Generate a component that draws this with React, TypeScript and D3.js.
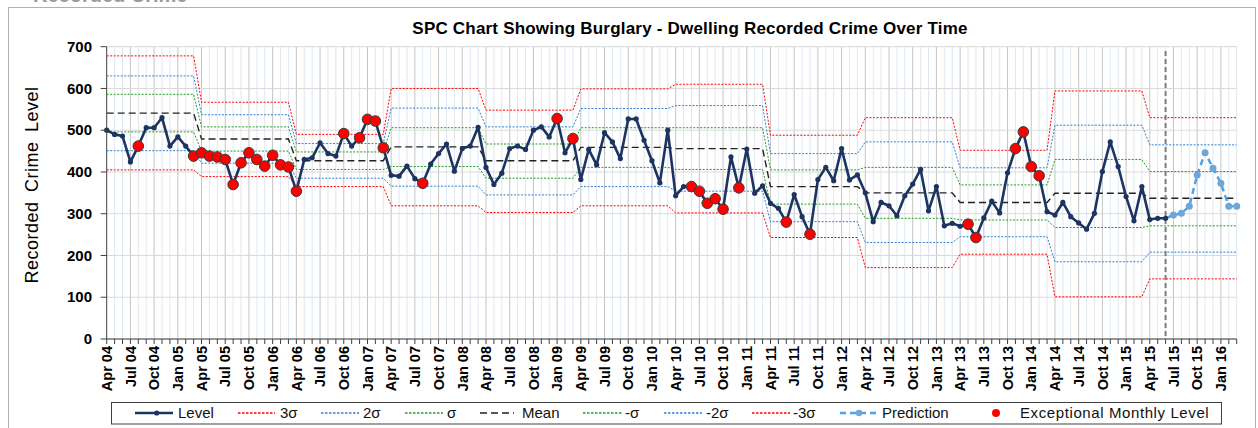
import React from "react";
import * as d3 from "d3";

// monthly recorded level, Apr 04 .. Jun 15
const levelValues = [
  500, 490, 486, 424, 462, 506, 506, 530, 462, 484, 462, 438,
  446, 438, 436, 430, 370, 422, 446, 430, 414, 440, 417, 412,
  354, 430, 434, 470, 444, 438, 492, 462, 482, 526, 522, 458,
  392, 390, 414, 384, 373, 419, 444, 467, 402, 456, 462, 507,
  411, 370, 397, 456, 462, 454, 500, 508, 484, 528, 446, 480,
  382, 454, 417, 494, 472, 432, 527, 527, 476, 427, 374, 500,
  343, 365, 365, 354, 325, 336, 311, 436, 362, 455, 349, 367,
  325, 313, 280, 346, 293, 251, 382, 411, 379, 456, 381, 393,
  350, 281, 327, 319, 295, 343, 371, 406, 307, 365, 271, 277,
  270, 275, 243, 290, 330, 302, 398, 456, 496, 413, 391, 305,
  297, 327, 293, 278, 263, 301, 401, 472, 413, 341, 283, 365,
  286, 289, 289,
];

// Jul 15 .. Mar 16
const predictionValues = [297, 301, 318, 393, 446, 409, 373, 318, 318];

// month indices flagged as exceptional
const exceptionalMonths = [
  4, 11, 12, 13, 14, 15, 16, 17, 18, 19, 20, 21, 22, 23, 24, 30, 32, 33, 34, 35,
  40, 57, 59, 74, 75, 76, 77, 78, 80, 86, 89, 109, 110, 115, 116, 117, 118,
];

// control limits per financial year (Apr - Mar)
const upper3 = [678, 567, 490, 600, 548, 599, 610, 488, 530, 452, 594, 530];
const upper2 = [630, 537, 468, 553, 508, 552, 559, 444, 472, 410, 512, 465];
const upper1 = [586, 508, 448, 506, 467, 506, 506, 405, 411, 369, 430, 401];
const meanVals = [541, 479, 427, 460, 427, 459, 456, 365, 350, 327, 349, 337];
const lower1 = [496, 450, 406, 413, 385, 411, 406, 323, 289, 285, 267, 271];
const lower2 = [451, 421, 385, 366, 345, 365, 354, 281, 231, 245, 185, 208];
const lower3 = [405, 389, 365, 319, 303, 319, 302, 243, 171, 203, 101, 144];

const quarterLabels = [
  "Apr 04", "Jul 04", "Oct 04", "Jan 05", "Apr 05", "Jul 05", "Oct 05", "Jan 06",
  "Apr 06", "Jul 06", "Oct 06", "Jan 07", "Apr 07", "Jul 07", "Oct 07", "Jan 08",
  "Apr 08", "Jul 08", "Oct 08", "Jan 09", "Apr 09", "Jul 09", "Oct 09", "Jan 10",
  "Apr 10", "Jul 10", "Oct 10", "Jan 11", "Apr 11", "Jul 11", "Oct 11", "Jan 12",
  "Apr 12", "Jul 12", "Oct 12", "Jan 13", "Apr 13", "Jul 13", "Oct 13", "Jan 14",
  "Apr 14", "Jul 14", "Oct 14", "Jan 15", "Apr 15", "Jul 15", "Oct 15", "Jan 16",
];

const W = 1258;
const H = 428;
const FONT = "Liberation Sans, Arial, sans-serif";

const RED = "#ff0000";
const BLUE = "#2f7fd0";
const GREEN = "#1e9e1e";

const App = () => {
  const nMonths = levelValues.length + predictionValues.length;
  const x = d3.scaleLinear().domain([0, nMonths - 1]).range([106.7, 1236.7]);
  const y = d3.scaleLinear().domain([0, 700]).range([339, 46.7]);
  const months = d3.range(nMonths);

  const line = d3
    .line<[number, number]>()
    .x((d) => x(d[0]))
    .y((d) => y(d[1]));

  const stepPath = (arr: number[]) =>
    line(months.map((i) => [i, arr[Math.floor(i / 12)]] as [number, number]));

  const limits = [
    { arr: upper3, color: RED },
    { arr: upper2, color: BLUE },
    { arr: upper1, color: GREEN },
    { arr: lower1, color: GREEN },
    { arr: lower2, color: BLUE },
    { arr: lower3, color: RED },
  ];

  const levelPts = levelValues.map((v, i) => [i, v] as [number, number]);
  const lastIdx = levelValues.length - 1;
  const predPts = [[lastIdx, levelValues[lastIdx]] as [number, number]].concat(
    predictionValues.map((v, k) => [lastIdx + 1 + k, v] as [number, number])
  );

  const legendY = 413;
  const navy = "#1b3461";
  const predBlue = "#4ea3ea";

  // legend entries for the thin dotted limit lines
  const legendLimits = [
    { x1: 238, x2: 275, tx: 280, color: RED, label: "3σ" },
    { x1: 321, x2: 359, tx: 363, color: BLUE, label: "2σ" },
    { x1: 405, x2: 443, tx: 447, color: GREEN, label: "σ" },
    { x1: 583, x2: 622, tx: 625, color: GREEN, label: "-σ" },
    { x1: 664, x2: 702, tx: 706, color: BLUE, label: "-2σ" },
    { x1: 752, x2: 790, tx: 793, color: RED, label: "-3σ" },
  ];

  return (
    <svg
      width={W}
      height={H}
      style={{ position: "absolute", left: 0, top: 0, display: "block" }}
      fontFamily={FONT}
    >
      <rect x={0} y={0} width={W} height={H} fill="#fff" />
      <text x={33} y={2} fontSize={20} fontWeight="bold" fill="#9a9a9a">
        Recorded Crime
      </text>
      <rect x={8.5} y={7.5} width={1247} height={440} fill="none" stroke="#b0b0b0" />

      <text
        x={690}
        y={34}
        textAnchor="middle"
        fontSize={17}
        fontWeight="bold"
        letterSpacing={0.2}
        fill="#000"
      >
        SPC Chart Showing Burglary - Dwelling Recorded Crime Over Time
      </text>

      {/* gridlines */}
      {months.slice(1).map((i) => (
        <line
          key={"vg" + i}
          x1={x(i)}
          x2={x(i)}
          y1={y(700)}
          y2={y(0)}
          stroke={i % 3 === 0 ? "#c4c4c4" : "#dfe7f1"}
          strokeWidth={1}
        />
      ))}
      {y.ticks(7).map((t) => (
        <line key={"hg" + t} x1={x(0)} x2={x(nMonths - 1)} y1={y(t)} y2={y(t)} stroke="#d9d9d9" />
      ))}

      {/* control limits */}
      {limits.map((l, k) => (
        <path
          key={"lim" + k}
          d={stepPath(l.arr) || ""}
          fill="none"
          stroke={l.color}
          strokeWidth={1}
          strokeDasharray="2,1.5"
        />
      ))}
      <path d={stepPath(meanVals) || ""} fill="none" stroke="#222" strokeWidth={1.4} strokeDasharray="7,4" />

      {/* forecast divider */}
      <line
        x1={x(lastIdx)}
        x2={x(lastIdx)}
        y1={51}
        y2={y(0)}
        stroke="#7f7f7f"
        strokeWidth={2}
        strokeDasharray="5,3"
      />

      {/* prediction */}
      <path d={line(predPts) || ""} fill="none" stroke={predBlue} strokeWidth={2.5} strokeDasharray="6,4" />
      {predPts.slice(1).map((d) => (
        <circle key={"p" + d[0]} cx={x(d[0])} cy={y(d[1])} r={3.5} fill="#6ea6d8" />
      ))}

      {/* level */}
      <path d={line(levelPts) || ""} fill="none" stroke={navy} strokeWidth={2.6} strokeLinejoin="round" />
      {levelPts.map((d) => (
        <circle key={"l" + d[0]} cx={x(d[0])} cy={y(d[1])} r={2.6} fill={navy} />
      ))}
      {exceptionalMonths.map((i) => (
        <circle
          key={"e" + i}
          cx={x(i)}
          cy={y(levelValues[i])}
          r={5.3}
          fill="#ff0000"
          stroke="#3a3a3a"
          strokeWidth={1}
        />
      ))}

      {/* axes */}
      <line x1={x(0)} x2={x(0)} y1={y(700)} y2={y(0)} stroke="#404040" />
      <line x1={x(0)} x2={x(nMonths - 1)} y1={y(0)} y2={y(0)} stroke="#404040" />
      {y.ticks(7).map((t) => (
        <g key={"yt" + t}>
          <line x1={x(0) - 6} x2={x(0)} y1={y(t)} y2={y(t)} stroke="#404040" />
          <text
            x={92}
            y={y(t)}
            dy="0.35em"
            textAnchor="end"
            fontSize={15}
            fontWeight="bold"
            fill="#000"
          >
            {t}
          </text>
        </g>
      ))}
      {months.map((i) => (
        <line key={"xt" + i} x1={x(i)} x2={x(i)} y1={y(0)} y2={y(0) + 5} stroke="#404040" />
      ))}
      {quarterLabels.map((lab, k) => (
        <text
          key={lab}
          transform={`translate(${x(k * 3)},346) rotate(-90)`}
          dy="0.36em"
          textAnchor="end"
          fontSize={14.5}
          fontWeight="bold"
          fill="#000"
        >
          {lab}
        </text>
      ))}
      <text
        transform="translate(32,185) rotate(-90)"
        textAnchor="middle"
        dy="0.35em"
        fontSize={18}
        letterSpacing={0.5}
        wordSpacing={4}
        fill="#000"
      >
        Recorded Crime Level
      </text>

      {/* legend */}
      <rect x={111.5} y={402.5} width={1110} height={21.5} fill="#fff" stroke="#404040" />
      <line x1={135} x2={173} y1={legendY} y2={legendY} stroke={navy} strokeWidth={2.6} />
      <circle cx={156.7} cy={legendY} r={2.6} fill={navy} />
      <text x={178} y={legendY} dy="0.35em" fontSize={15} fill="#111">Level</text>

      {legendLimits.map((d) => (
        <g key={d.label}>
          <line
            x1={d.x1}
            x2={d.x2}
            y1={legendY}
            y2={legendY}
            stroke={d.color}
            strokeWidth={1.6}
            strokeDasharray="2.5,1.5"
          />
          <text x={d.tx} y={legendY} dy="0.35em" fontSize={15} fill="#111">
            {d.label}
          </text>
        </g>
      ))}

      <line x1={480} x2={514} y1={legendY} y2={legendY} stroke="#222" strokeWidth={1.4} strokeDasharray="7,4" />
      <text x={522} y={legendY} dy="0.35em" fontSize={15} fill="#111">Mean</text>

      <line x1={840} x2={880} y1={legendY} y2={legendY} stroke={predBlue} strokeWidth={2.5} strokeDasharray="6,4" />
      <circle cx={859} cy={legendY} r={3.2} fill="#6ea6d8" />
      <text x={882} y={legendY} dy="0.35em" fontSize={15} fill="#111">Prediction</text>

      <circle cx={996} cy={legendY} r={4} fill="#ff0000" />
      <text x={1020} y={legendY} dy="0.35em" fontSize={15} letterSpacing={0.6} fill="#111">
        Exceptional Monthly Level
      </text>
    </svg>
  );
};

export default App;
